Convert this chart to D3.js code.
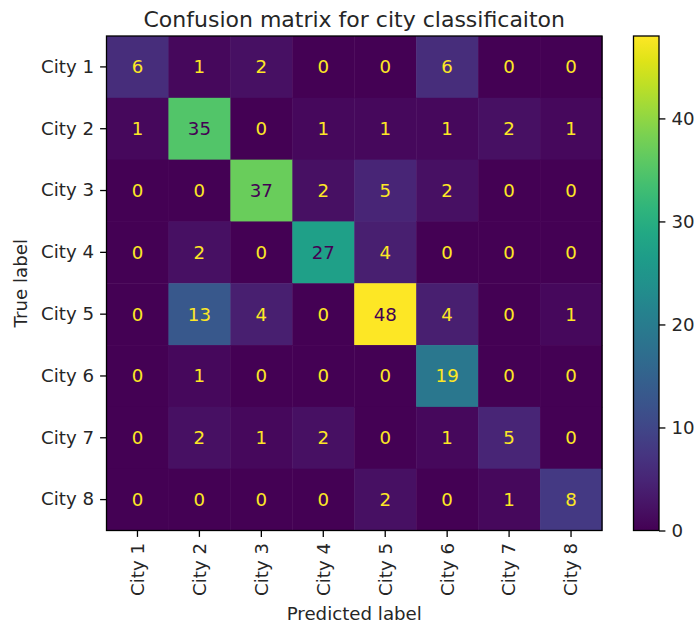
<!DOCTYPE html>
<html>
<head>
<meta charset="utf-8">
<script src="https://cdn.jsdelivr.net/npm/d3@7"></script>
<style>
  body { margin: 0; background: #fff; }
  svg { display: block; font-family: "DejaVu Sans", sans-serif; }
</style>
</head>
<body>
<svg id="chart" width="694" height="628"></svg>
<script>
// Class names, shared by rows (true) and columns (predicted)
const trueLabels = ["City 1", "City 2", "City 3", "City 4", "City 5", "City 6", "City 7", "City 8"];
const predictedLabels = ["City 1", "City 2", "City 3", "City 4", "City 5", "City 6", "City 7", "City 8"];

// Confusion counts, one row per true class
const row1 = [6, 1, 2, 0, 0, 6, 0, 0];
const row2 = [1, 35, 0, 1, 1, 1, 2, 1];
const row3 = [0, 0, 37, 2, 5, 2, 0, 0];
const row4 = [0, 2, 0, 27, 4, 0, 0, 0];
const row5 = [0, 13, 4, 0, 48, 4, 0, 1];
const row6 = [0, 1, 0, 0, 0, 19, 0, 0];
const row7 = [0, 2, 1, 2, 0, 1, 5, 0];
const row8 = [0, 0, 0, 0, 2, 0, 1, 8];
const matrix = [row1, row2, row3, row4, row5, row6, row7, row8];

const colorbarTicks = [0, 10, 20, 30, 40];

const FS = 18.2;      // tick, cell and axis-label font size
const TITLE_FS = 22;  // title font size
const TICK = 6.4;     // tick length
const PAD = 6;        // tick label padding

const svg = d3.select("#chart");

const plot = { left: 106.5, top: 36, right: 602, bottom: 530.5 };
const bar = { left: 633.5, right: 659 };

const x = d3.scaleBand().domain(predictedLabels).range([plot.left, plot.right]);
const y = d3.scaleBand().domain(trueLabels).range([plot.top, plot.bottom]);

const allValues = matrix.flat();
const vmin = d3.min(allValues), vmax = d3.max(allValues);
const color = d3.scaleSequential(d3.interpolateViridis).domain([vmin, vmax]);
const thresh = (vmin + vmax) / 2;

const cells = [];
matrix.forEach((row, i) => row.forEach((v, j) => cells.push({ t: trueLabels[i], p: predictedLabels[j], v })));

// Heatmap cells
svg.append("g").selectAll("rect").data(cells).join("rect")
  .attr("x", d => x(d.p))
  .attr("y", d => y(d.t))
  .attr("width", x.bandwidth() + 0.5)
  .attr("height", y.bandwidth() + 0.5)
  .attr("fill", d => color(d.v));

// Count labels
svg.append("g").selectAll("text").data(cells).join("text")
  .attr("x", d => x(d.p) + x.bandwidth() / 2)
  .attr("y", d => y(d.t) + y.bandwidth() / 2)
  .attr("text-anchor", "middle")
  .attr("dominant-baseline", "central")
  .attr("font-size", FS)
  .attr("fill", d => d.v < thresh ? color(vmax) : color(vmin))
  .text(d => d.v);

// Frame
svg.append("rect")
  .attr("x", plot.left).attr("y", plot.top)
  .attr("width", plot.right - plot.left).attr("height", plot.bottom - plot.top)
  .attr("fill", "none").attr("stroke", "#000").attr("stroke-width", 1.3);

function styleAxis(g) {
  g.select(".domain").remove();
  g.selectAll(".tick line").attr("stroke", "#000").attr("stroke-width", 1.3);
  g.selectAll("text")
    .attr("font-size", FS)
    .attr("font-family", "DejaVu Sans, sans-serif")
    .attr("fill", "#262626");
}

// Axes
const xAxis = svg.append("g")
  .attr("transform", `translate(0,${plot.bottom})`)
  .call(d3.axisBottom(x).tickSize(TICK).tickSizeOuter(0));
styleAxis(xAxis);
xAxis.selectAll("text")
  .attr("transform", "rotate(-90)")
  .attr("text-anchor", "end")
  .attr("x", -(TICK + PAD))
  .attr("y", 0)
  .attr("dy", "0.35em");

const yAxis = svg.append("g")
  .attr("transform", `translate(${plot.left},0)`)
  .call(d3.axisLeft(y).tickSize(TICK).tickSizeOuter(0).tickPadding(PAD));
styleAxis(yAxis);

// Axis titles
svg.append("text")
  .attr("x", (plot.left + plot.right) / 2).attr("y", 620)
  .attr("text-anchor", "middle").attr("font-size", FS).attr("fill", "#262626")
  .text("Predicted label");
svg.append("text")
  .attr("transform", `translate(27,${(plot.top + plot.bottom) / 2}) rotate(-90)`)
  .attr("text-anchor", "middle").attr("font-size", FS).attr("fill", "#262626")
  .text("True label");

// Title
svg.append("text")
  .attr("x", (plot.left + plot.right) / 2).attr("y", 27)
  .attr("text-anchor", "middle").attr("font-size", TITLE_FS).attr("fill", "#262626")
  .text("Confusion matrix for city classificaiton");

// Colorbar
const defs = svg.append("defs");
const grad = defs.append("linearGradient").attr("id", "viridis-grad")
  .attr("x1", 0).attr("y1", 1).attr("x2", 0).attr("y2", 0);
d3.range(0, 1.0001, 0.05).forEach(t => {
  grad.append("stop").attr("offset", t).attr("stop-color", d3.interpolateViridis(t));
});
svg.append("rect")
  .attr("x", bar.left).attr("y", plot.top)
  .attr("width", bar.right - bar.left).attr("height", plot.bottom - plot.top)
  .attr("fill", "url(#viridis-grad)")
  .attr("stroke", "#000").attr("stroke-width", 1.3);

const cb = d3.scaleLinear().domain([vmin, vmax]).range([plot.bottom, plot.top]);
const cbAxis = svg.append("g")
  .attr("transform", `translate(${bar.right},0)`)
  .call(d3.axisRight(cb).tickValues(colorbarTicks).tickSize(TICK).tickPadding(PAD));
styleAxis(cbAxis);
</script>
</body>
</html>
